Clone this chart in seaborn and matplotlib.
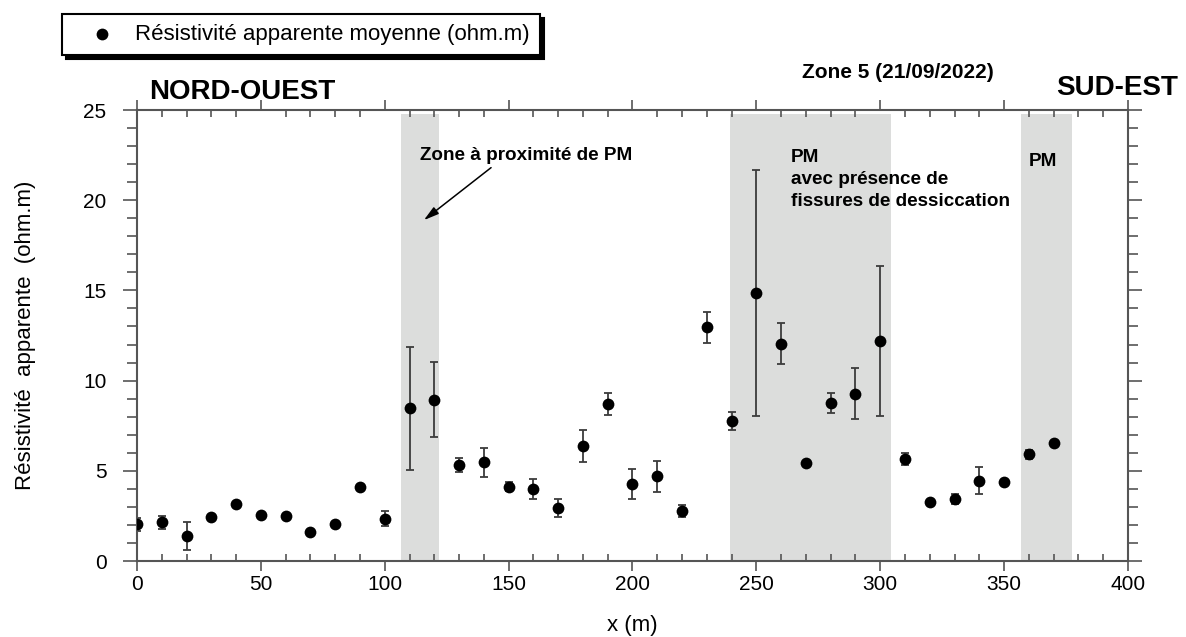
import numpy as np
import pandas as pd
import matplotlib
matplotlib.use("Agg")
import matplotlib.pyplot as plt
from matplotlib.ticker import MultipleLocator
import seaborn as sns

# profile positions (m) and mean apparent resistivity (ohm.m)
x_m = [0, 10, 20, 30, 40, 50, 60, 70, 80, 90, 100, 110, 120, 130, 140, 150, 160, 170, 180,
       190, 200, 210, 220, 230, 240, 250, 260, 270, 280, 290, 300, 310, 320, 330, 340, 350,
       360, 370]
rho_mean = [2.03, 2.14, 1.40, 2.46, 3.16, 2.55, 2.49, 1.59, 2.03, 4.08, 2.35, 8.46, 8.94,
            5.32, 5.47, 4.12, 3.99, 2.94, 6.37, 8.70, 4.27, 4.69, 2.79, 12.95, 7.76, 14.86,
            12.05, 5.41, 8.76, 9.28, 12.20, 5.65, 3.27, 3.44, 4.45, 4.36, 5.93, 6.56]
# half-width of the error bars (0 = no bar drawn)
rho_err = [0.35, 0.37, 0.78, 0, 0, 0, 0, 0, 0, 0, 0.43, 3.39, 2.08,
           0.40, 0.79, 0.26, 0.55, 0.48, 0.90, 0.62, 0.82, 0.88, 0.33, 0.85, 0.51, 6.82,
           1.12, 0, 0.58, 1.40, 4.18, 0.34, 0, 0.30, 0.74, 0, 0.25, 0]

# shaded zones along the profile (start, end) in m
zone_start = [106.5, 239.5, 357.0]
zone_end = [122.0, 304.5, 377.5]
zone_top = 24.8

legend_label = "Résistivité apparente moyenne (ohm.m)"

sns.set_style("white")
plt.rcParams["font.family"] = ["Liberation Sans", "DejaVu Sans"]
plt.rcParams["text.color"] = "black"
plt.rcParams["axes.labelcolor"] = "black"
plt.rcParams["xtick.color"] = "black"
plt.rcParams["ytick.color"] = "black"

df = pd.DataFrame({"x": x_m, "rho": rho_mean, "err": rho_err})

fig = plt.figure(figsize=(11.86, 6.37), dpi=100)
ax = fig.add_axes([0.1155, 0.1193, 0.8356, 0.7080])

# gray zones
for x0, x1 in zip(zone_start, zone_end):
    ax.fill_between([x0, x1], 0, zone_top, color="#dcdddc", lw=0, zorder=0)

# error bars then points
with_err = df[df["err"] > 0]
ax.errorbar(with_err["x"], with_err["rho"], yerr=with_err["err"], fmt="none",
            ecolor="#3c3c3c", elinewidth=1.3, capsize=3, capthick=1.3, zorder=2)
sns.scatterplot(data=df, x="x", y="rho", ax=ax, color="black", s=72, linewidth=0,
                zorder=3, label=legend_label)
if ax.get_legend() is not None:
    ax.get_legend().remove()

ax.set_xlim(0, 400)
ax.set_ylim(0, 25)
ax.xaxis.set_major_locator(MultipleLocator(50))
ax.xaxis.set_minor_locator(MultipleLocator(10))
ax.yaxis.set_major_locator(MultipleLocator(5))
ax.yaxis.set_minor_locator(MultipleLocator(1))

spine_col = "#555555"
for s in ax.spines.values():
    s.set_visible(True)
    s.set_color(spine_col)
    s.set_linewidth(1.5)

ax.tick_params(axis="x", which="major", direction="out", length=7, width=1.2,
               bottom=True, top=True, color=spine_col, labelsize=15, pad=3)
ax.tick_params(axis="x", which="minor", direction="in", length=5, width=1.2,
               bottom=True, top=True, color=spine_col)
ax.tick_params(axis="y", which="major", direction="out", length=10, width=1.2,
               left=True, right=True, color=spine_col, labelsize=15, pad=12)
ax.tick_params(axis="y", which="minor", direction="out", length=7, width=1.2,
               left=True, right=True, color=spine_col)

ax.set_xlabel("x (m)", fontsize=16)
ax.set_ylabel("Résistivité  apparente  (ohm.m)", fontsize=16)
ax.xaxis.set_label_coords(0.5, -0.12)
ax.yaxis.set_label_coords(-0.102, 0.5)

# annotations
bold = dict(fontweight="bold", color="black")
ax.text(42.4, 26.0, "NORD-OUEST", ha="center", va="center", fontsize=20, **bold)
ax.text(395.4, 26.2, "SUD-EST", ha="center", va="center", fontsize=20, **bold)
ax.text(307.2, 27.1, "Zone 5 (21/09/2022)", ha="center", va="center", fontsize=15, **bold)
ax.text(114.2, 22.5, "Zone à proximité de PM", ha="left", va="center", fontsize=13.6, **bold)
ax.annotate("", xy=(114.9, 18.8), xytext=(143.8, 21.9),
            arrowprops=dict(arrowstyle="-|>,head_length=0.9,head_width=0.25",
                            color="black", lw=1.1))
ax.text(264.0, 22.85, "PM\navec présence de\nfissures de dessiccation", ha="left",
        va="top", fontsize=13.6, linespacing=1.38, **bold)
ax.text(365.7, 22.15, "PM", ha="center", va="center", fontsize=13.6, **bold)

# legend box with black drop shadow
handles, labels = ax.get_legend_handles_labels()
leg = fig.legend(handles, labels, loc="upper left",
                 bbox_to_anchor=(62 / 1186, 1 - 14 / 637), frameon=True, fancybox=False,
                 shadow={"color": "black", "alpha": 1, "ox": 3, "oy": -3},
                 edgecolor="black", facecolor="white", framealpha=1, fontsize=16,
                 borderaxespad=0, borderpad=0.45, handlelength=2.7, handletextpad=0.15)
leg.get_frame().set_linewidth(1.5)

fig.savefig("out.png", dpi=100, facecolor="white")
